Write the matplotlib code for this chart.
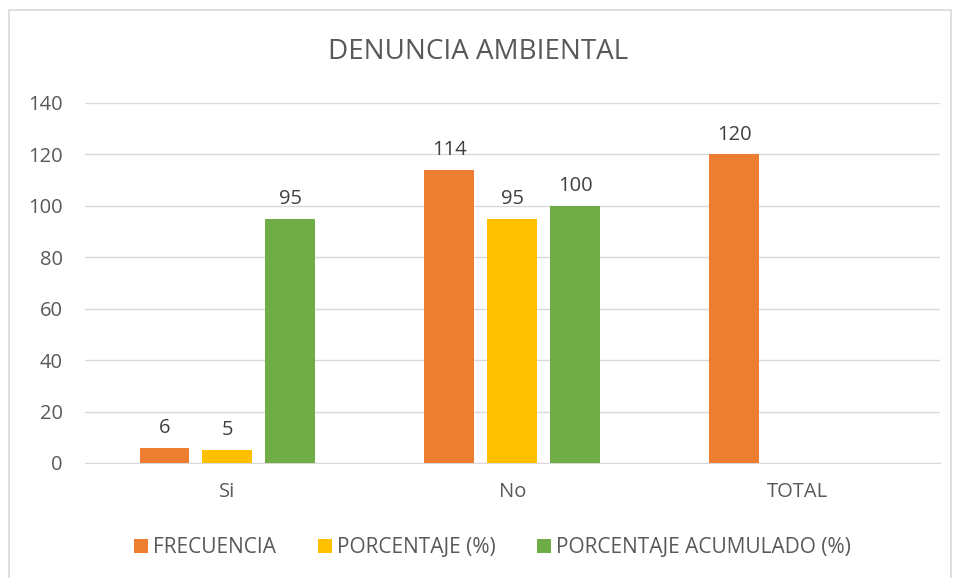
import numpy as np
import matplotlib
matplotlib.use("Agg")
import matplotlib.pyplot as plt
from matplotlib.patches import Rectangle

categories = ["Si", "No", "TOTAL"]
frecuencia = [6, 114, 120]
porcentaje = [5, 95, np.nan]
acumulado = [95, 100, np.nan]
series_names = ["FRECUENCIA", "PORCENTAJE (%)", "PORCENTAJE ACUMULADO (%)"]
colors = ["#ED7D31", "#FFC000", "#70AD47"]

plt.rcParams["font.family"] = ["Open Sans", "DejaVu Sans"]
text_color = "#595959"
fs = 14.5

fig = plt.figure(figsize=(9.57, 5.78), dpi=100)
ax = fig.add_axes([0.0888, 0.199, 0.893, 0.623])

# chart border
fig.patches.append(Rectangle((0.009, -0.01), 0.985, 0.993, transform=fig.transFigure,
                             fill=False, edgecolor="#D9D9D9", linewidth=1.2))

x = np.arange(len(categories))
width = 0.175
offset = 0.221
for i, (vals, name) in enumerate(zip([frecuencia, porcentaje, acumulado], series_names)):
    pos = x + (i - 1) * offset
    bars = ax.bar(pos, vals, width, color=colors[i], label=name, zorder=3)
    for b, v in zip(bars, vals):
        if not np.isnan(v):
            ax.annotate(f"{v:g}", (b.get_x() + b.get_width() / 2, v),
                        xytext=(0, 7), textcoords="offset points",
                        ha="center", va="bottom", fontsize=fs, color="#404040")

ax.set_xlim(-0.5, 2.5)
ax.set_ylim(0, 140)
ax.set_yticks(range(0, 141, 20))
ax.set_xticks(x)
ax.set_xticklabels(categories)
ax.grid(axis="y", color="#D9D9D9", linewidth=1, zorder=0)
ax.tick_params(axis="both", length=0, labelsize=fs, colors=text_color)
ax.tick_params(axis="x", pad=14)
ax.tick_params(axis="y", pad=16)
for s in ["top", "right", "left"]:
    ax.spines[s].set_visible(False)
ax.spines["bottom"].set_color("#D9D9D9")

fig.text(0.5, 0.91, "DENUNCIA AMBIENTAL", ha="center", va="center",
         fontsize=20, color=text_color)

ax.legend(loc="center", bbox_to_anchor=(0.477, -0.235), ncol=3, frameon=False,
          fontsize=15, labelcolor=text_color, handlelength=0.67, handleheight=0.67,
          handletextpad=0.25, columnspacing=2.0)

fig.savefig("out.png", dpi=100)
